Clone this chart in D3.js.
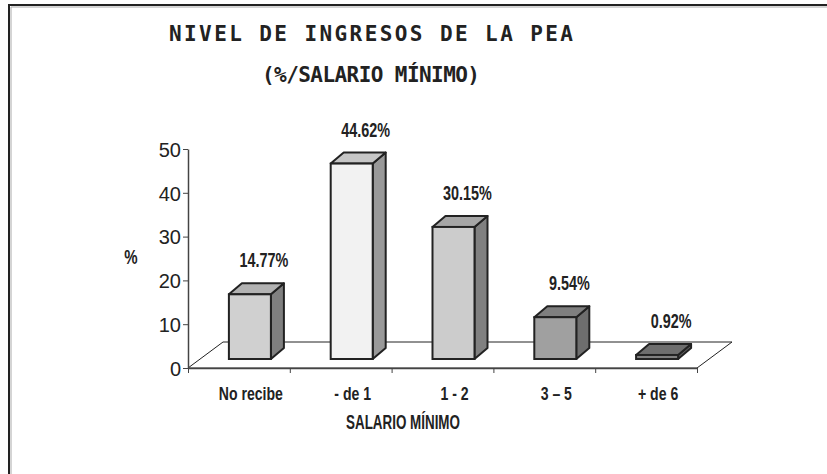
<!DOCTYPE html>
<html>
<head>
<meta charset="utf-8">
<script src="https://cdn.jsdelivr.net/npm/d3@7"></script>
<style>
    html, body { margin: 0; padding: 0; background: #fff; overflow: hidden; }
</style>
</head>
<body>
<div id="chart"></div>
<script>
"use strict";

const categories = ["No recibe", "- de 1", "1 - 2", "3 \u2013 5", "+ de 6"];
const values = [14.77, 44.62, 30.15, 9.54, 0.92];
const valueLabels = ["14.77%", "44.62%", "30.15%", "9.54%", "0.92%"];
const yTicks = [0, 10, 20, 30, 40, 50];
const titleLines = ["NIVEL DE INGRESOS DE LA PEA", "(%/SALARIO M\u00CDNIMO)"];

const frontFill = ["#d0d0d0", "#f2f2f2", "#cccccc", "#a0a0a0", "#808080"];
const sideFill  = ["#808080", "#999999", "#808080", "#6e6e6e", "#606060"];
const topFill   = ["#b2b2b2", "#c6c6c6", "#a6a6a6", "#7f7f7f", "#6e6e6e"];

const drawChart = () => {
    const width = 827, height = 474;
    const plot = { left: 188, right: 697, top: 149, bottom: 368 };
    const floorDepth = { dx: 35, dy: -26 };
    const front = { dx: 11, dy: -9 };
    const barDepth = { dx: 13, dy: -11 };
    const barW = 42;
    const ink = "#222";
    const labelFont = "'Liberation Sans', Arial, sans-serif";

    const xScale = d3.scaleBand()
                     .domain(categories)
                     .range([plot.left, plot.right]);
    const xEdges = d3.scaleLinear()
                     .domain([0, categories.length])
                     .range([plot.left, plot.right]);
    const yScale = d3.scaleLinear()
                     .domain([0, 50])
                     .range([plot.bottom, plot.top]);

    const svg = d3.select("#chart").append("svg")
                  .attr("width", width)
                  .attr("height", height);

    // squeeze bold text so it looks like the narrow original face
    const condense = (sel, k) => sel.each(function () {
        const len = this.getComputedTextLength();
        d3.select(this).attr("textLength", len * k)
                       .attr("lengthAdjust", "spacingAndGlyphs");
    });

    // frame (only top and left visible)
    svg.append("rect")
       .attr("x", 9).attr("y", 5)
       .attr("width", width + 20).attr("height", height + 20)
       .attr("fill", "none")
       .attr("stroke", ink)
       .attr("stroke-width", 2);
    svg.append("path")
       .attr("d", `M11,${height}V7H${width}`)
       .attr("fill", "none")
       .attr("stroke", "#aaa")
       .attr("stroke-width", 1);

    // title
    const titleBase = [41, 82];
    const titleLen = [404, 218];
    svg.append("g").selectAll("text").data(titleLines).enter()
       .append("text")
       .attr("x", 371)
       .attr("y", (d, i) => titleBase[i])
       .attr("text-anchor", "middle")
       .attr("textLength", (d, i) => titleLen[i])
       .attr("lengthAdjust", "spacing")
       .style("font-family", "'DejaVu Sans Mono', monospace")
       .style("font-weight", "bold")
       .style("font-size", "21px")
       .attr("fill", ink)
       .text(d => d);

    // floor
    const x0 = plot.left, x1 = plot.right, yb = yScale(0);
    svg.append("path")
       .attr("d", `M${x0},${yb}L${x0 + floorDepth.dx},${yb + floorDepth.dy}` +
                  `L${x1 + floorDepth.dx},${yb + floorDepth.dy}L${x1},${yb}Z`)
       .attr("fill", "#fff")
       .attr("stroke", ink)
       .attr("stroke-width", 1);

    // bars
    const bars = svg.append("g").selectAll("g").data(values).enter().append("g");
    const bx = (d, i) => xScale(categories[i]) + (xScale.bandwidth() - barW) / 2 + front.dx;
    const by = d => yScale(d) + front.dy;
    const bb = yScale(0) + front.dy;

    bars.append("path")
        .attr("d", (d, i) => {
            const l = bx(d, i), r = l + barW, t = by(d);
            return `M${r},${t}L${r + barDepth.dx},${t + barDepth.dy}` +
                   `L${r + barDepth.dx},${bb + barDepth.dy}L${r},${bb}Z`;
        })
        .attr("fill", (d, i) => sideFill[i])
        .attr("stroke", ink).attr("stroke-width", 2)
        .attr("stroke-linejoin", "round");
    bars.append("path")
        .attr("d", (d, i) => {
            const l = bx(d, i), r = l + barW, t = by(d);
            return `M${l},${t}L${l + barDepth.dx},${t + barDepth.dy}` +
                   `L${r + barDepth.dx},${t + barDepth.dy}L${r},${t}Z`;
        })
        .attr("fill", (d, i) => topFill[i])
        .attr("stroke", ink).attr("stroke-width", 2)
        .attr("stroke-linejoin", "round");
    bars.append("rect")
        .attr("x", (d, i) => bx(d, i))
        .attr("y", d => by(d))
        .attr("width", barW)
        .attr("height", d => bb - by(d))
        .attr("fill", (d, i) => frontFill[i])
        .attr("stroke", ink).attr("stroke-width", 2);

    // value labels
    bars.append("text")
        .attr("x", (d, i) => bx(d, i) + barW / 2 + 14)
        .attr("y", d => by(d) - 27)
        .attr("text-anchor", "middle")
        .style("font-family", labelFont)
        .style("font-weight", "bold")
        .style("font-size", "20px")
        .attr("fill", ink)
        .text((d, i) => valueLabels[i])
        .call(condense, 0.72);

    // y axis
    const yAxis = svg.append("g")
                     .attr("transform", `translate(${plot.left},0)`)
                     .call(d3.axisLeft(yScale)
                             .tickValues(yTicks)
                             .tickSize(5)
                             .tickSizeOuter(0)
                             .tickPadding(2));
    yAxis.select(".domain").attr("stroke", "#444").attr("stroke-width", 1.5);
    yAxis.selectAll(".tick line").attr("stroke", "#444");
    yAxis.selectAll("text")
         .attr("fill", ink)
         .attr("dy", "0.36em")
         .style("font-family", labelFont)
         .style("font-size", "20px");

    // x axis (ticks at category edges, front floor edge is the domain)
    const xAxis = svg.append("g")
                     .attr("transform", `translate(0,${yb})`)
                     .call(d3.axisBottom(xEdges)
                             .ticks(categories.length)
                             .tickSize(5)
                             .tickSizeOuter(0)
                             .tickFormat(""));
    xAxis.select(".domain").attr("stroke", "#444").attr("stroke-width", 1.5);
    xAxis.selectAll(".tick line").attr("stroke", "#444");

    svg.append("g").selectAll("text").data(categories).enter()
       .append("text")
       .attr("x", d => xScale(d) + xScale.bandwidth() / 2 + 12)
       .attr("y", 400)
       .attr("text-anchor", "middle")
       .style("font-family", labelFont)
       .style("font-weight", "bold")
       .style("font-size", "19px")
       .attr("fill", ink)
       .text(d => d)
       .call(condense, 0.74);

    // axis titles
    svg.append("text")
       .attr("x", 403).attr("y", 429)
       .attr("text-anchor", "middle")
       .style("font-family", labelFont)
       .style("font-weight", "bold")
       .style("font-size", "20px")
       .attr("fill", ink)
       .text("SALARIO M\u00CDNIMO")
       .call(condense, 0.67);
    svg.append("text")
       .attr("x", 131).attr("y", 264)
       .attr("text-anchor", "middle")
       .style("font-family", labelFont)
       .style("font-weight", "bold")
       .style("font-size", "20px")
       .attr("fill", ink)
       .text("%")
       .call(condense, 0.75);
};

drawChart();
</script>
</body>
</html>
